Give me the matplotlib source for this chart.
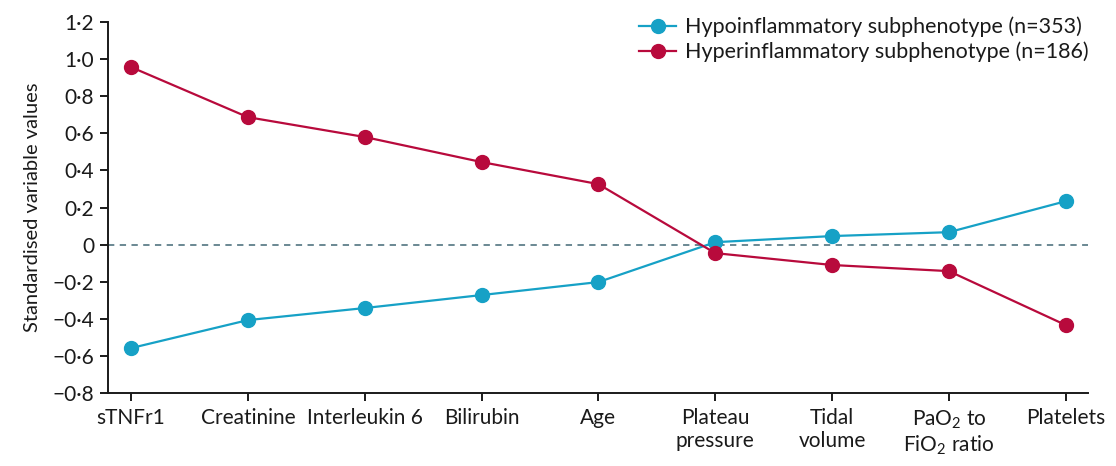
import matplotlib
matplotlib.use("Agg")
import matplotlib.pyplot as plt

plt.rcParams['font.family'] = ['Lato', 'DejaVu Sans']
plt.rcParams['mathtext.fontset'] = 'custom'
plt.rcParams['mathtext.rm'] = 'Lato'
plt.rcParams['mathtext.default'] = 'regular'

categories = ["sTNFr1", "Creatinine", "Interleukin 6", "Bilirubin", "Age",
              "Plateau\npressure", "Tidal\nvolume", "PaO$_2$ to\nFiO$_2$ ratio", "Platelets"]
hypo = [-0.558, -0.407, -0.342, -0.272, -0.202, 0.013, 0.046, 0.067, 0.234]
hyper = [0.957, 0.687, 0.580, 0.445, 0.326, -0.046, -0.110, -0.143, -0.434]
yticks = [-0.8, -0.6, -0.4, -0.2, 0, 0.2, 0.4, 0.6, 0.8, 1.0, 1.2]
ytick_labels = ["−0·8", "−0·6", "−0·4", "−0·2", "0", "0·2", "0·4", "0·6", "0·8", "1·0", "1·2"]

c_hypo = "#16A1C6"
c_hyper = "#B80A3C"

fig = plt.figure(figsize=(11.16, 4.66), dpi=100)
ax = fig.add_axes([108/1116, 1-393/466, (1088-108)/1116, (393-22)/466])

x = list(range(len(categories)))
ax.axhline(0, color="#5F7F8A", lw=1.3, ls=(0, (3.5, 3)), zorder=1)
ax.plot(x, hypo, color=c_hypo, lw=1.6, marker='o', ms=10, label="Hypoinflammatory subphenotype (n=353)", zorder=3)
ax.plot(x, hyper, color=c_hyper, lw=1.6, marker='o', ms=10, label="Hyperinflammatory subphenotype (n=186)", zorder=3)

ax.set_xlim(-0.197, 8.19)
ax.set_ylim(-0.8, 1.2)
ax.set_yticks(yticks)
ax.set_yticklabels(ytick_labels)
ax.set_xticks(x)
ax.set_xticklabels(categories, linespacing=1.15)
for s in ['top', 'right']:
    ax.spines[s].set_visible(False)
for s in ['left', 'bottom']:
    ax.spines[s].set_linewidth(1.4)
    ax.spines[s].set_color("#1a1a1a")
ax.tick_params(axis='both', direction='out', length=6, width=1.4, color="#1a1a1a",
               labelsize=15, labelcolor="#1a1a1a")
ax.tick_params(axis='x', pad=5)
ax.tick_params(axis='y', pad=4)
ax.set_ylabel("Standardised variable values", fontsize=14.5, color="#1a1a1a", labelpad=8)

leg = ax.legend(loc='upper right', bbox_to_anchor=(1099/1116, 1-6/466), bbox_transform=fig.transFigure,
                frameon=False, fontsize=15.5, handlelength=1.7, handletextpad=0.4,
                labelspacing=0.2, borderpad=0, labelcolor="#1a1a1a")

fig.savefig("out.png", dpi=100)
